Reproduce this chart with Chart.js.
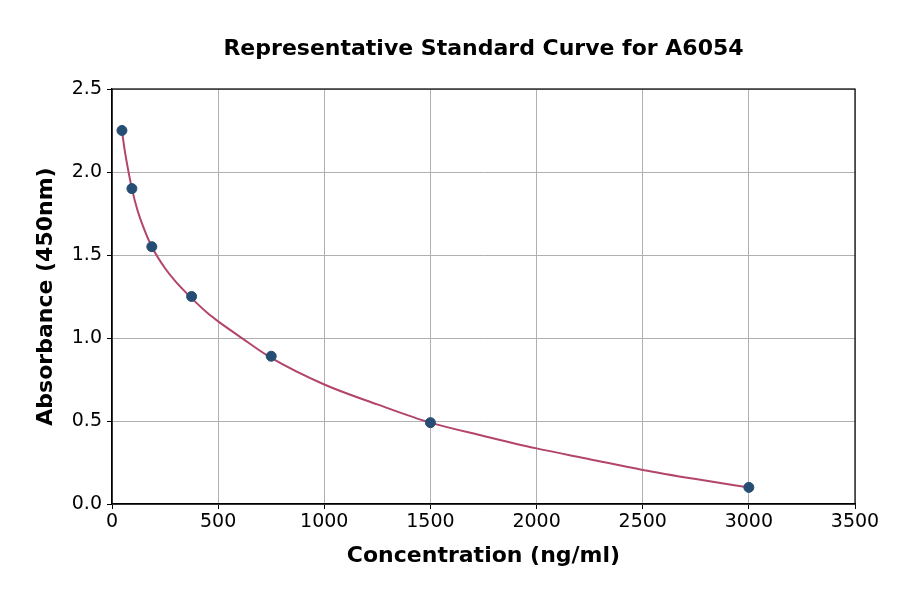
<!DOCTYPE html>
<html>
<head>
<meta charset="utf-8">
<script src="https://cdn.jsdelivr.net/npm/chart.js@4.4.1/dist/chart.umd.min.js"></script>
<style>
  html, body { margin: 0; padding: 0; background: #fff; }
  #wrap { width: 900px; height: 594px; position: relative; }
</style>
</head>
<body>
<div id="wrap"><canvas id="chart"></canvas></div>
<script>
// ─── Data ─────────────────────────────────────────────────────────
const conc       = [46.875, 93.75, 187.5, 375, 750, 1500, 3000];
const absorbance = [2.25, 1.90, 1.55, 1.25, 0.89, 0.49, 0.10];

// fitted curve
const curveX = [46.875, 60, 75, 93.75, 120, 150, 187.5, 250, 300, 375, 450, 500, 600, 750, 1000, 1250, 1500, 1750, 2000, 2250, 2500, 2750, 3000];
const curveY = [2.25, 2.13, 2.02, 1.90, 1.77, 1.66, 1.55, 1.42, 1.34, 1.24, 1.15, 1.10, 1.01, 0.88, 0.72, 0.60, 0.49, 0.41, 0.335, 0.27, 0.205, 0.15, 0.10];

const xTicks = [0, 500, 1000, 1500, 2000, 2500, 3000, 3500];
const yTicks = [0, 0.5, 1.0, 1.5, 2.0, 2.5];

const TITLE = 'Representative Standard Curve for A6054';
const FONT  = "'DejaVu Sans', sans-serif";

// black frame round the plot area (matplotlib spines) + title centred over it
const frame = {
  id: 'frame',
  afterDatasetsDraw(chart) {
    const { ctx, chartArea: a } = chart;
    ctx.save();
    ctx.strokeStyle = '#000';
    ctx.lineWidth = 1.2;
    ctx.strokeRect(a.left, a.top, a.right - a.left, a.bottom - a.top);
    ctx.fillStyle = '#000';
    ctx.font = `bold 22px ${FONT}`;
    ctx.textAlign = 'center';
    ctx.textBaseline = 'middle';
    ctx.fillText(TITLE, (a.left + a.right) / 2, 49);
    ctx.restore();
  }
};

new Chart(document.getElementById('chart').getContext('2d'), {
  type: 'scatter',
  data: {
    datasets: [
      {
        label: 'Standards',
        data: conc.map((x, i) => ({ x, y: absorbance[i] })),
        backgroundColor: '#264d73', borderColor: '#264d73',
        pointRadius: 5, pointHoverRadius: 5, order: 0,
      },
      {
        label: 'Fit',
        type: 'line',
        data: curveX.map((x, i) => ({ x, y: curveY[i] })),
        borderColor: '#b3446c', backgroundColor: 'transparent',
        borderWidth: 2, pointRadius: 0, cubicInterpolationMode: 'monotone',
        fill: false, order: 1,
      },
    ],
  },
  options: {
    responsive: true, maintainAspectRatio: false, animation: false,
    layout: { padding: { top: 89, right: 45, bottom: 0, left: 0 } },
    plugins: {
      legend: { display: false },
      tooltip: { enabled: false },
      title: { display: false },
    },
    scales: {
      x: {
        type: 'linear', min: 0, max: 3500,
        afterBuildTicks: s => { s.ticks = xTicks.map(v => ({ value: v })); },
        afterFit: s => { s.height = 90; },
        grid: { color: '#b0b0b0', lineWidth: 1, tickLength: 5, tickColor: '#000', drawTicks: true },
        border: { color: '#000', width: 1.2 },
        ticks: { color: '#000', font: { family: FONT, size: 19 }, padding: 2, maxRotation: 0, callback: v => String(v) },
        title: { display: true, text: 'Concentration (ng/ml)', color: '#000', font: { family: FONT, size: 22, weight: 'bold' }, padding: { top: 8, bottom: 25 } },
      },
      y: {
        type: 'linear', min: 0, max: 2.5,
        afterBuildTicks: s => { s.ticks = yTicks.map(v => ({ value: v })); },
        afterFit: s => { s.width = 112; },
        grid: { color: '#b0b0b0', lineWidth: 1, tickLength: 5, tickColor: '#000', drawTicks: true },
        border: { color: '#000', width: 1.2 },
        ticks: { color: '#000', font: { family: FONT, size: 19 }, padding: 5, callback: v => v.toFixed(1) },
        title: { display: true, text: 'Absorbance (450nm)', color: '#000', font: { family: FONT, size: 22, weight: 'bold' }, padding: { top: 33, bottom: 0 } },
      },
    },
  },
  plugins: [frame],
});
</script>
</body>
</html>
